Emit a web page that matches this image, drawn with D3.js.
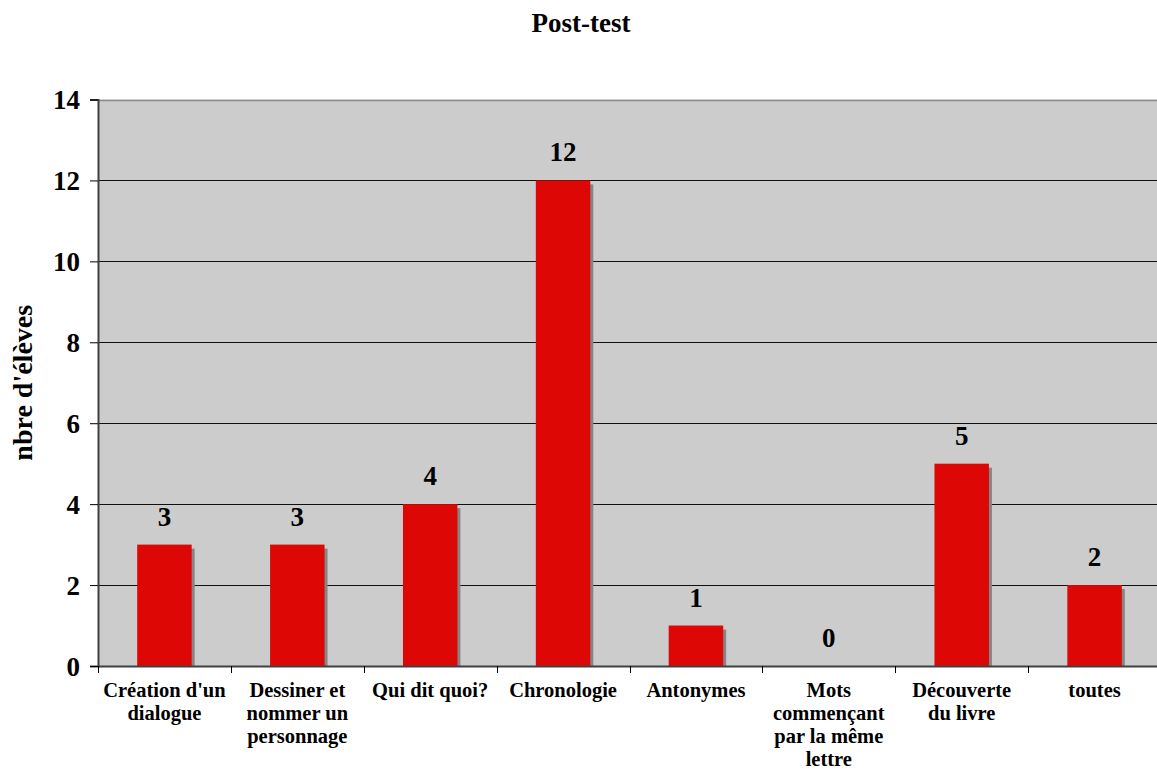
<!DOCTYPE html>
<html>
<head>
<meta charset="utf-8">
<script src="https://cdn.jsdelivr.net/npm/d3@7/dist/d3.min.js"></script>
<style>
  html, body { margin: 0; padding: 0; background: #ffffff; overflow: hidden; }
  svg { display: block; font-family: "Liberation Serif", "Times New Roman", serif; font-weight: bold; }
</style>
</head>
<body>
<svg id="chart" width="1157" height="769"></svg>
<script>
// Post-test results: number of pupils per activity
const categories = [
  ["Création d'un", "dialogue"],
  ["Dessiner et", "nommer un", "personnage"],
  ["Qui dit quoi?"],
  ["Chronologie"],
  ["Antonymes"],
  ["Mots", "commençant", "par la même", "lettre"],
  ["Découverte", "du livre"],
  ["toutes"]
];
const values = [3, 3, 4, 12, 1, 0, 5, 2];
const yTicks = [0, 2, 4, 6, 8, 10, 12, 14];
const chartTitle = "Post-test";
const yTitle = "nbre d'élèves";

const svg = d3.select("#chart");
const plot = { left: 98, right: 1161, top: 99.5, bottom: 666 };

const x = d3.scaleBand()
  .domain(d3.range(categories.length))
  .range([plot.left, plot.right])
  .padding(0);
const y = d3.scaleLinear().domain([0, 14]).range([plot.bottom, plot.top]);

const barW = x.bandwidth() * 0.41;

// plot background
svg.append("rect")
  .attr("x", plot.left).attr("y", plot.top)
  .attr("width", plot.right - plot.left).attr("height", plot.bottom - plot.top)
  .attr("fill", "#cccccc");

// horizontal gridlines
svg.append("g").selectAll("line")
  .data(yTicks.filter(d => d > 0 && d < 14))
  .join("line")
  .attr("x1", plot.left).attr("x2", plot.right)
  .attr("y1", d => Math.round(y(d)) + 0.5).attr("y2", d => Math.round(y(d)) + 0.5)
  .attr("stroke", "#111111").attr("stroke-width", 1);

// top border of plot
svg.append("line")
  .attr("x1", plot.left).attr("x2", plot.right)
  .attr("y1", Math.round(y(14)) + 0.5).attr("y2", Math.round(y(14)) + 0.5)
  .attr("stroke", "#8a8a8a").attr("stroke-width", 1.5);

// bar shadows
svg.append("g").selectAll("rect")
  .data(values)
  .join("rect")
  .attr("x", (d, i) => x(i) + (x.bandwidth() - barW) / 2 + 3)
  .attr("y", d => y(d) + 4)
  .attr("width", barW)
  .attr("height", d => Math.max(0, y(0) - y(d) - 4))
  .attr("fill", "#858585");

// bars
svg.append("g").selectAll("rect")
  .data(values)
  .join("rect")
  .attr("x", (d, i) => x(i) + (x.bandwidth() - barW) / 2)
  .attr("y", d => y(d))
  .attr("width", barW)
  .attr("height", d => y(0) - y(d))
  .attr("fill", "#dd0806");

// value labels
svg.append("g").selectAll("text")
  .data(values)
  .join("text")
  .attr("x", (d, i) => x(i) + x.bandwidth() / 2)
  .attr("y", d => y(d) - 19)
  .attr("text-anchor", "middle")
  .attr("font-size", 27)
  .attr("fill", "#000")
  .text(d => d);

// y axis
const yAxis = d3.axisLeft(y).tickValues(yTicks).tickSize(8).tickPadding(10).tickFormat(d3.format("d"));
const gy = svg.append("g")
  .attr("transform", `translate(${plot.left},0)`)
  .call(yAxis);
gy.select(".domain").attr("stroke", "#404040").attr("stroke-width", 2);
gy.selectAll(".tick line").attr("stroke", "#000");
gy.selectAll(".tick text")
  .attr("font-family", "Liberation Serif, Times New Roman, serif")
  .attr("font-weight", "bold")
  .attr("font-size", 27)
  .attr("fill", "#000")
  .attr("dy", "0.34em");

// x axis (category ticks at band boundaries)
svg.append("line")
  .attr("x1", plot.left).attr("x2", plot.right)
  .attr("y1", plot.bottom + 0.5).attr("y2", plot.bottom + 0.5)
  .attr("stroke", "#404040").attr("stroke-width", 2);
svg.append("g").selectAll("line")
  .data(d3.range(categories.length + 1))
  .join("line")
  .attr("x1", i => Math.round(plot.left + i * x.step()) + 0.5)
  .attr("x2", i => Math.round(plot.left + i * x.step()) + 0.5)
  .attr("y1", plot.bottom).attr("y2", plot.bottom + 7)
  .attr("stroke", "#000");

// category labels
const catG = svg.append("g").selectAll("text")
  .data(categories)
  .join("text")
  .attr("text-anchor", "middle")
  .attr("font-size", 20.5)
  .attr("fill", "#000");
catG.selectAll("tspan")
  .data((lines, i) => lines.map((l, k) => ({ l, k, i })))
  .join("tspan")
  .attr("x", d => x(d.i) + x.bandwidth() / 2)
  .attr("y", d => 697 + d.k * 23)
  .text(d => d.l);

// chart title
svg.append("text")
  .attr("x", 581).attr("y", 31.5)
  .attr("text-anchor", "middle")
  .attr("font-size", 27)
  .attr("fill", "#000")
  .text(chartTitle);

// y axis title
svg.append("text")
  .attr("transform", `translate(32, ${(plot.top + plot.bottom) / 2}) rotate(-90)`)
  .attr("text-anchor", "middle")
  .attr("font-size", 28)
  .attr("fill", "#000")
  .text(yTitle);
</script>
</body>
</html>
